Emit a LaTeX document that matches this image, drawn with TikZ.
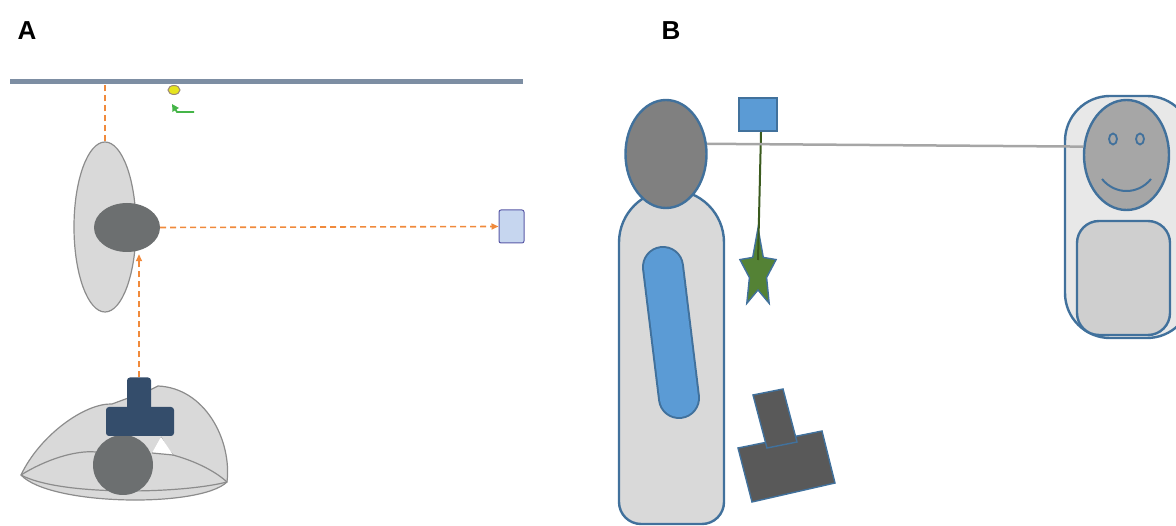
\documentclass[tikz,border=0pt]{standalone}
\usepackage{fontspec}
\setmainfont{Liberation Sans}
\usepackage{tikz}
\usetikzlibrary{arrows.meta, positioning, shapes.geometric}

\definecolor{rail}{HTML}{7D8EA3}
\definecolor{trace}{HTML}{F08A3C}
\definecolor{skin}{HTML}{D9D9D9}
\definecolor{rim}{HTML}{8C8C8C}
\definecolor{scalp}{HTML}{6C6F70}
\definecolor{navy}{HTML}{344D6B}
\definecolor{edgeblue}{HTML}{41719C}
\definecolor{sky}{HTML}{5B9BD5}
\definecolor{leaf}{HTML}{548235}
\definecolor{moss}{HTML}{3B5B1E}
\definecolor{slate}{HTML}{595959}
\definecolor{lamp}{HTML}{E6E41E}
\definecolor{sprout}{HTML}{45B548}
\definecolor{glass}{HTML}{C6D6EF}

\begin{document}
\begin{tikzpicture}[x=1pt, y=-1pt,
  panel/.style={font=\fontsize{26}{30}\selectfont\bfseries, inner sep=0pt},
  blob/.style={ellipse, draw=rim, line width=1.2pt, fill=skin, inner sep=0pt},
  pad/.style={fill=scalp, inner sep=0pt},
  navybox/.style={fill=navy, rounded corners=3pt, inner sep=0pt},
  trail/.style={trace, line width=1.6pt, dash pattern=on 6pt off 4pt},
  trailarr/.style={trail, -{Triangle[length=7pt, width=6pt]}},
  bluedge/.style={draw=edgeblue, line width=2.4pt},
  thinedge/.style={draw=edgeblue, line width=1.4pt}
]
\useasboundingbox (0,0) rectangle (1176,526);

\node[panel] (labA) at (27,31) {A};
\node[panel] (labB) at (671,31) {B};

% A: ceiling view
\coordinate (railL) at (10,82);
\coordinate (railR) at (523,82);
\draw[rail, line width=5pt] (railL) -- (railR);
\node[ellipse, draw=rim!70!brown, fill=lamp, line width=1pt, minimum width=12pt, minimum height=9pt, inner sep=0pt] (bulb) at (174,90) {};
\coordinate (hook) at (194,112);
\draw[sprout, line width=1.8pt, -{Triangle[length=7pt, width=7pt]}] (hook) -- ++(-17,0) -- ++(-5,-8);

\node[blob, minimum width=62pt, minimum height=170pt] (torsoA) at (105,227) {};
\node[ellipse, pad, minimum width=66pt, minimum height=49pt] (headA) at (127,227.5) {};
\node[draw=blue!30!gray, fill=glass, line width=1pt, rounded corners=2pt, minimum width=25pt, minimum height=33pt, inner sep=0pt] (screen) at (511.5,226.5) {};

\draw[trail] (torsoA.north) -- (torsoA.north |- railL);
\draw[trailarr] (headA.east) -- (screen.west);

% A: seated figure from above
\draw[rim, line width=1.2pt, fill=skin] (21,475) .. controls (40,435) and (85,403) .. (112,404) -- (150,390) -- (158,386)
  .. controls (205,388) and (232,440) .. (227,482) .. controls (200,508) and (50,506) .. (21,475) -- cycle;
\draw[rim, line width=1.2pt] (21,475) .. controls (45,460) and (75,450) .. (96,452);
\draw[rim, line width=1.2pt] (21,475) .. controls (60,496) and (180,494) .. (227,482);
\draw[rim, line width=1.2pt] (161,437) .. controls (165,445) and (168,451) .. (173,455) .. controls (198,462) and (216,472) .. (227,482);
\fill[white] (161,437) -- (173,455) -- (152,453) -- cycle;
\draw[rim, line width=1.2pt] (152,453) -- (173,455);
\node[circle, pad, minimum size=60pt] (headC) at (123,465) {};
\node[navybox, minimum width=24pt, minimum height=33pt] (camstem) at (139,394) {};
\node[navybox, minimum width=68pt, minimum height=29pt] (cambase) at (140,421.5) {};
\draw[trailarr, shorten >=2pt] (camstem.north) -- (camstem.north |- headA.south);

% B: side view
\draw[bluedge, fill=skin] (619,242.5) -- (619,502) arc[start angle=180, end angle=270, radius=22pt] -- (702,524)
  arc[start angle=270, end angle=360, radius=22pt] -- (724,242.5) arc[start angle=0, end angle=180, radius=52.5pt] -- cycle;
\coordinate (armtop) at (663,267);
\coordinate (armbot) at (679,398);
\draw[edgeblue, line width=42pt, line cap=round] (armtop) -- (armbot);
\draw[sky, line width=38pt, line cap=round] (armtop) -- (armbot);
\node[ellipse, bluedge, fill=gray, inner sep=0pt, minimum width=81pt, minimum height=108pt] (headB) at (666,154) {};

\node[bluedge, fill=sky, minimum width=38pt, minimum height=33pt, inner sep=0pt] (sensor) at (758,114.5) {};
\coordinate (star) at (758,272);
\draw[thinedge, fill=leaf, shift={(star)}] (0,-44) -- (5.3,-14.6) -- (18.1,-12.4) -- (8.6,5.6) -- (11.2,31.4) -- (0,18)
  -- (-11.2,31.4) -- (-8.6,5.6) -- (-18.1,-12.4) -- (-5.3,-14.6) -- cycle;
\draw[moss, line width=2pt] ([xshift=3pt]sensor.south) -- ([yshift=12pt]star);

\draw[thinedge, fill=slate] (738,448) -- (822,431) -- (835,483) -- (752,502) -- cycle;
\draw[thinedge, fill=slate] (753,395) -- (783,389) -- (797,442) -- (767,448) -- cycle;

% B: the other person
\draw[bluedge, fill=gray!18, rounded corners=45pt] (1065,96) rectangle (1192,338);
\draw[bluedge, fill=gray!38, rounded corners=22pt] (1077,221) rectangle (1170,335);
\node[ellipse, bluedge, fill=gray!70, inner sep=0pt, minimum width=85pt, minimum height=110pt] (face) at (1126.5,155) {};
\node[ellipse, draw=edgeblue, line width=1.8pt, minimum width=8pt, minimum height=11pt, inner sep=0pt] (eyeL) at (1113,139) {};
\node[ellipse, draw=edgeblue, line width=1.8pt, minimum width=8pt, minimum height=11pt, inner sep=0pt] (eyeR) at (1140,139) {};
\draw[edgeblue, line width=2pt] (1102,179) .. controls (1115,195) and (1138,195) .. (1151,179);

\draw[gray!70, line width=2.5pt] (headB.14) -- (face.169);
\end{tikzpicture}
\end{document}
